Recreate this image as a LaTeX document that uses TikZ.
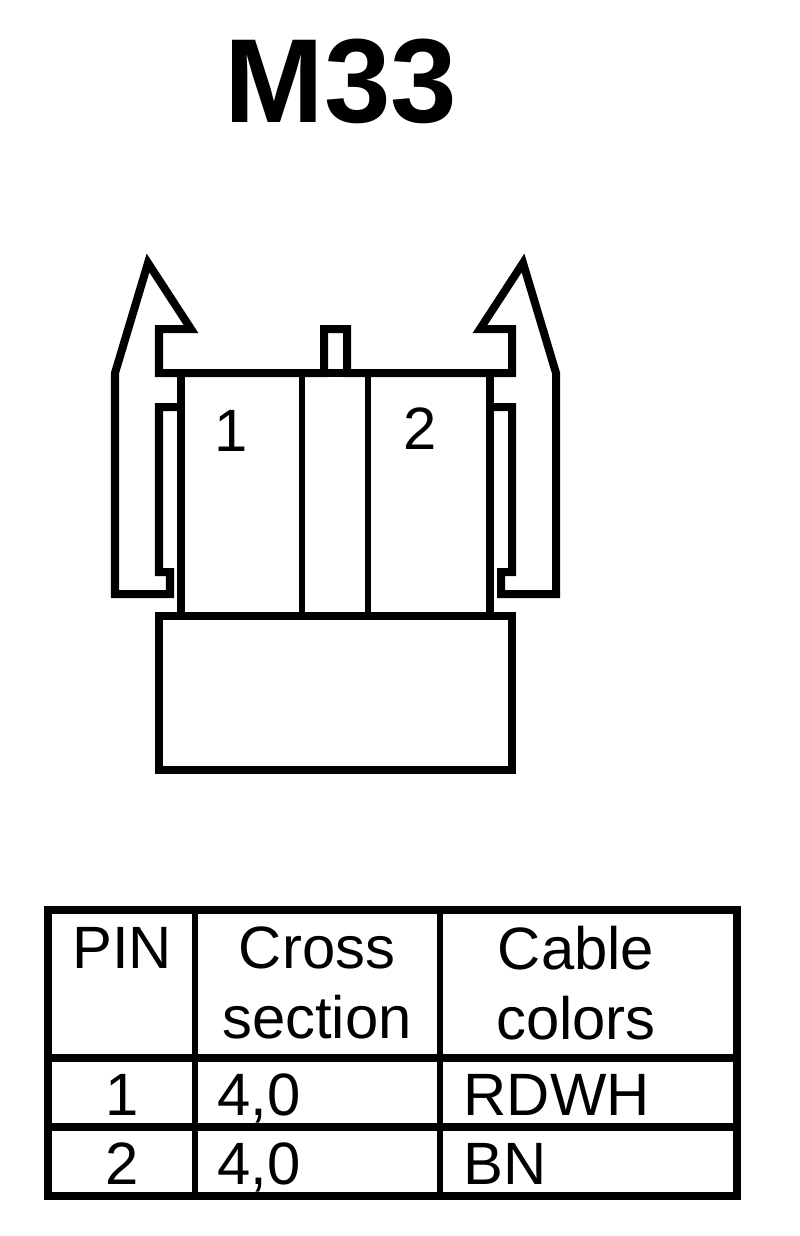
\documentclass[tikz,border=0pt]{standalone}
\usepackage{fontspec}
\setmainfont{Liberation Sans}
\tikzset{
    heavyline/.style={line width=0.08cm, line join=miter, miter limit=10},
    lightline/.style={line width=0.055cm},
    tableline/.style={line width=0.085cm},
    tabletext/.style={inner sep=0pt, font=\fontsize{17}{19.9}\selectfont, align=center},
    titletext/.style={inner sep=0pt, font=\fontsize{34}{40}\selectfont\bfseries},
}
\begin{document}
\begin{tikzpicture}[x=0.01cm,y=-0.01cm]
    \useasboundingbox (0,0) rectangle (800,1236);
    \node[titletext] (title) at (341,81) {M33};
    \draw[heavyline] (181,407) -- (159,407) -- (159,572) -- (170,572) -- (170,594) -- (115,594) -- (115,373) -- (148,263) -- (191,329) -- (159,329) -- (159,373) -- (324,373) -- (324,329) -- (347,329) -- (347,373) -- (512,373) -- (512,329) -- (480,329) -- (523,263) -- (556,373) -- (556,594) -- (501,594) -- (501,572) -- (512,572) -- (512,407) -- (490,407);
    \draw[heavyline] (181,373) rectangle (490,616);
    \draw[lightline] (302,373) -- (302,616);
    \draw[lightline] (368,373) -- (368,616);
    \draw[heavyline] (159,616) rectangle (512,770);
    \node[tabletext, anchor=base] (pinone) at (231,451) {1};
    \node[tabletext, anchor=base] (pintwo) at (420,449) {2};
    \draw[tableline] (48,910) rectangle (737,1196);
    \draw[lightline] (195,910) -- (195,1196);
    \draw[lightline] (440,910) -- (440,1196);
    \draw[tableline] (48,1058) -- (737,1058);
    \draw[tableline] (48,1127) -- (737,1127);
    \node[tabletext, anchor=base] (headpin) at (122,968) {PIN};
    \node[tabletext] (headsection) at (317,983) {Cross\\section};
    \node[tabletext] (headcolor) at (576,983) {Cable\\colors};
    \node[tabletext, anchor=base] (rowone) at (122,1115) {1};
    \node[tabletext, anchor=base west] (sectionone) at (217,1115) {4,0};
    \node[tabletext, anchor=base west] (colorone) at (463,1115) {RDWH};
    \node[tabletext, anchor=base] (rowtwo) at (122,1184) {2};
    \node[tabletext, anchor=base west] (sectiontwo) at (217,1184) {4,0};
    \node[tabletext, anchor=base west] (colortwo) at (463,1184) {BN};
\end{tikzpicture}
\end{document}
